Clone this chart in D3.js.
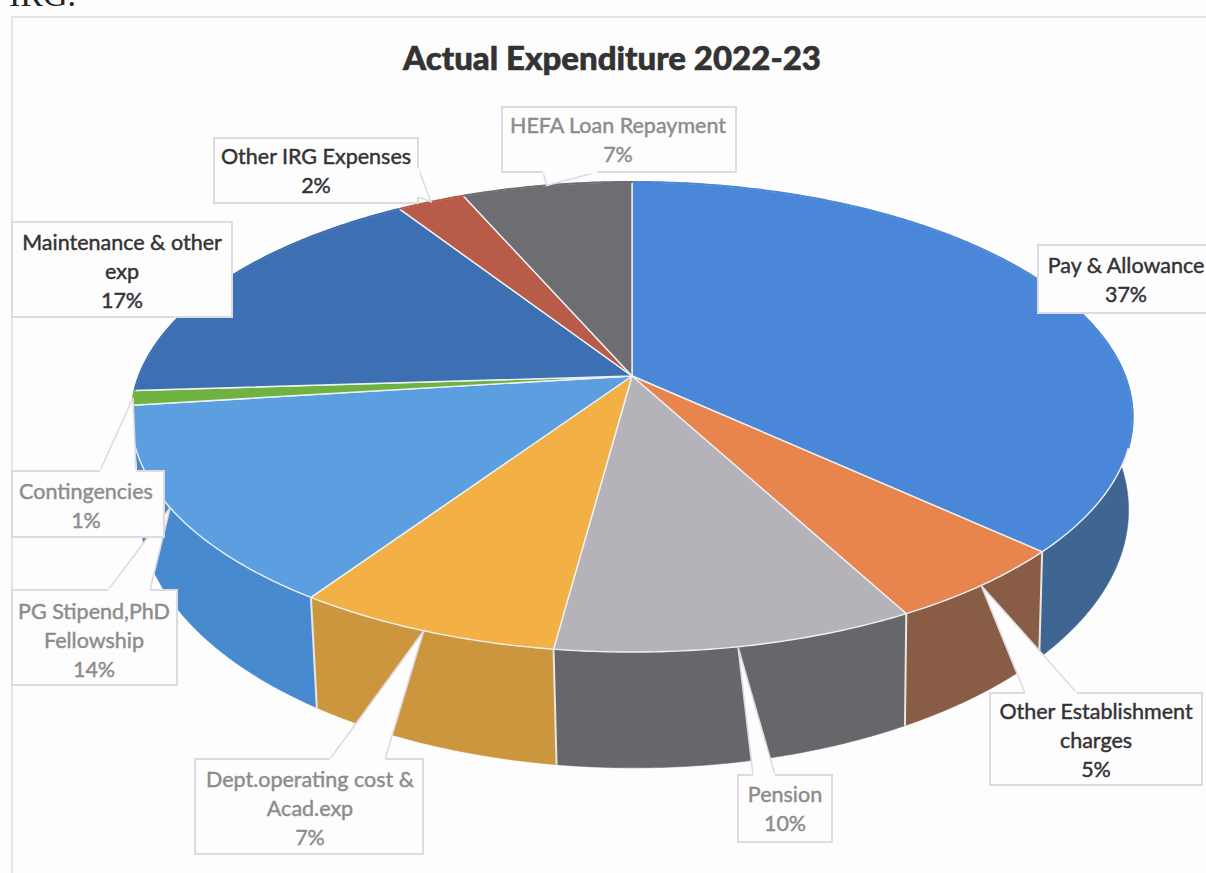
<!DOCTYPE html>
<html>
<head>
<meta charset="utf-8">
<script src="https://cdnjs.cloudflare.com/ajax/libs/d3/7.8.5/d3.min.js"></script>
<style>
  html, body { margin: 0; padding: 0; background: #fefdfe; overflow: hidden; }
  svg { display: block; }
</style>
</head>
<body>
<div id="mysvg"></div>
<script>
// chart data, clockwise from 12 o'clock
var categories = ["Pay & Allowance", "Other Establishment charges", "Pension", "Dept.operating cost & Acad.exp",
    "PG Stipend,PhD Fellowship", "Contingencies", "Maintenance & other exp", "Other IRG Expenses", "HEFA Loan Repayment"];
// slice shares
var shares = [36.9, 5.3, 9.9, 7.3, 13.6, 1.0, 16.9, 2.6, 6.5];
// percentages as printed on the labels
var printedPct = ["37%", "5%", "10%", "7%", "14%", "1%", "17%", "2%", "7%"];
var chartTitle = "Actual Expenditure 2022-23";

var topColors = ["#4a87d8", "#e8854e", "#b5b3b9", "#f3b145", "#5b9fe0", "#6fb23f", "#3d6fb3", "#b95b49", "#6e6d72"];
var sideColors = ["#3f6592", "#885c45", "#67666b", "#cc963f", "#488acf", "#4f8a2c", "#2f5488", "#8a4436", "#525155"];

// wrapped lines of each label
var labelLines = [["Pay & Allowance"], ["Other Establishment", "charges"], ["Pension"], ["Dept.operating cost &", "Acad.exp"],
    ["PG Stipend,PhD", "Fellowship"], ["Contingencies"], ["Maintenance & other", "exp"], ["Other IRG Expenses"], ["HEFA Loan Repayment"]];
var labelColors = ["#333", "#333", "#8c8c8c", "#8c8c8c", "#8c8c8c", "#8c8c8c", "#333", "#333", "#8c8c8c"];

// label boxes: x, y, w, h, text centre, first line centre, tail opening on the box edge [x1,y1,x2,y2]
var boxes = [
    {x: 1038, y: 245, w: 180, h: 68, tx: 1126, ty: 265, tail: null},
    {x: 990, y: 693, w: 212, h: 92, tx: 1096, ty: 711, tail: [1025, 693, 1077, 693]},
    {x: 738, y: 775, w: 94, h: 67, tx: 785, ty: 794, tail: [753, 775, 775, 775]},
    {x: 195, y: 759, w: 228, h: 95, tx: 310, ty: 779, tail: [330, 759, 385, 759]},
    {x: 12, y: 590, w: 165, h: 95, tx: 94, ty: 611, tail: [108, 590, 150, 590]},
    {x: 12, y: 471, w: 152, h: 66, tx: 86, ty: 491, tail: [100, 471, 136, 471]},
    {x: 12, y: 222, w: 220, h: 95, tx: 122, ty: 242, tail: null},
    {x: 214, y: 138, w: 204, h: 65, tx: 316, ty: 156, tail: [418, 168, 418, 197]},
    {x: 502, y: 107, w: 234, h: 65, tx: 618, ty: 125, tail: [543, 172, 597, 172]}
];

var width = 1206, height = 873;
var fontFamily = "Lato, 'Open Sans', sans-serif";

// perspective of the pie: top face and bottom face
var persp = 0.1745;
var topFace = {cx: 632, R: 493, Rk: 227.9, cy: 376};
var botFace = {cx: 634, R: 487, Rk: 250, cy: 465};

function project(angle, face) {
    var u = Math.sin(angle), v = -Math.cos(angle);
    var w = 1 - persp * v;
    return [face.cx + face.R * u / w, face.cy + face.Rk * v / w];
}

function rim(a0, a1, face) {
    var n = Math.max(2, Math.ceil((a1 - a0) / 0.01));
    return d3.range(n + 1).map(function(i) {
        return project(a0 + (a1 - a0) * i / n, face);
    });
}

var svg = d3.select("div#mysvg").append("svg").attr("width", width).attr("height", height);
var line = d3.line();

// frame of the chart area and the cut off heading of the scanned page
svg.append("rect").attr("x", 12).attr("y", 17).attr("width", 1300).attr("height", 1000)
    .attr("fill", "none").attr("stroke", "#e5e3e7").attr("stroke-width", 2);
svg.append("text").attr("x", 9).attr("y", 6).text("IRG.")
    .attr("font-family", "'Liberation Serif', serif").attr("font-size", 34).attr("fill", "#222");

svg.append("text").attr("x", 612).attr("y", 70).attr("text-anchor", "middle").text(chartTitle)
    .attr("font-family", fontFamily).attr("font-weight", 900).attr("font-size", 33)
    .attr("fill", "#333").attr("stroke", "#333").attr("stroke-width", 0.6);

var slices = d3.pie().sort(null)(shares);
slices.forEach(function(d, i) { d.idx = i; d.mid = (d.startAngle + d.endAngle) / 2; });

// sides, back ones first
var sideOrder = slices.slice().sort(function(a, b) {
    return Math.cos(b.mid) - Math.cos(a.mid);
});
svg.append("g").selectAll("path")
    .data(sideOrder)
    .enter()
    .append("path")
    .attr("d", function(d) {
        var pts = rim(d.startAngle, d.endAngle, topFace).concat(rim(d.startAngle, d.endAngle, botFace).reverse());
        return line(pts) + "Z";
    })
    .attr("fill", function(d) { return sideColors[d.idx]; })
    .attr("stroke", function(d) { return sideColors[d.idx]; })
    .attr("stroke-width", 0.5);

// white seams between the front sides
svg.append("g").selectAll("line")
    .data(slices.filter(function(d) { return Math.cos(d.startAngle) < -0.3; }))
    .enter()
    .append("line")
    .attr("x1", function(d) { return project(d.startAngle, topFace)[0]; })
    .attr("y1", function(d) { return project(d.startAngle, topFace)[1]; })
    .attr("x2", function(d) { return project(d.startAngle, botFace)[0]; })
    .attr("y2", function(d) { return project(d.startAngle, botFace)[1]; })
    .attr("stroke", "#e8e6e0").attr("stroke-width", 2);

// top face
svg.append("g").selectAll("path")
    .data(slices)
    .enter()
    .append("path")
    .attr("d", function(d) {
        return line([[topFace.cx, topFace.cy]].concat(rim(d.startAngle, d.endAngle, topFace))) + "Z";
    })
    .attr("fill", function(d) { return topColors[d.idx]; })
    .attr("stroke", "#eef1f4").attr("stroke-width", 1.4).attr("stroke-linejoin", "round");

// back rim has no visible edge, paint it over in the slice colour
var rimFrontStart = 1.876, rimFrontEnd = 2 * Math.PI - 1.85;
var backRims = [];
slices.forEach(function(d) {
    if (d.startAngle < rimFrontStart) backRims.push({idx: d.idx, a0: d.startAngle, a1: Math.min(d.endAngle, rimFrontStart)});
    if (d.endAngle > rimFrontEnd) backRims.push({idx: d.idx, a0: Math.max(d.startAngle, rimFrontEnd), a1: d.endAngle});
});
svg.append("g").selectAll("path")
    .data(backRims)
    .enter()
    .append("path")
    .attr("d", function(d) { return line(rim(d.a0, d.a1, topFace)); })
    .attr("fill", "none")
    .attr("stroke", function(d) { return topColors[d.idx]; })
    .attr("stroke-width", 2);

// labels
var labelG = svg.append("g").selectAll("g")
    .data(d3.range(categories.length))
    .enter()
    .append("g");

var boxStroke = "#dddbdf";
labelG.append("rect")
    .attr("x", function(i) { return boxes[i].x; })
    .attr("y", function(i) { return boxes[i].y; })
    .attr("width", function(i) { return boxes[i].w; })
    .attr("height", function(i) { return boxes[i].h; })
    .attr("fill", "#fefdfe").attr("stroke", boxStroke).attr("stroke-width", 2);

// callout tail runs from the box opening to the middle of the slice rim
labelG.filter(function(i) { return boxes[i].tail; }).each(function(i) {
    var t = boxes[i].tail;
    var tip = project(slices[i].mid, topFace);
    var g = d3.select(this);
    g.append("path")
        .attr("d", line([[t[0], t[1]], tip, [t[2], t[3]]]))
        .attr("fill", "#fefdfe").attr("stroke", boxStroke).attr("stroke-width", 1.6);
    g.append("line")
        .attr("x1", t[0]).attr("y1", t[1]).attr("x2", t[2]).attr("y2", t[3])
        .attr("stroke", "#fefdfe").attr("stroke-width", 3);
});

labelG.each(function(i) {
    var lines = labelLines[i].concat([printedPct[i]]);
    var b = boxes[i];
    d3.select(this).selectAll("text")
        .data(lines)
        .enter()
        .append("text")
        .attr("x", b.tx)
        .attr("y", function(d, k) { return b.ty + 8 + k * 28.8; })
        .attr("text-anchor", "middle")
        .attr("font-family", fontFamily)
        .attr("font-size", 21.5)
        .attr("fill", labelColors[i])
        .attr("stroke", labelColors[i])
        .attr("stroke-width", 0.45)
        .text(function(d) { return d; });
});
</script>
</body>
</html>
